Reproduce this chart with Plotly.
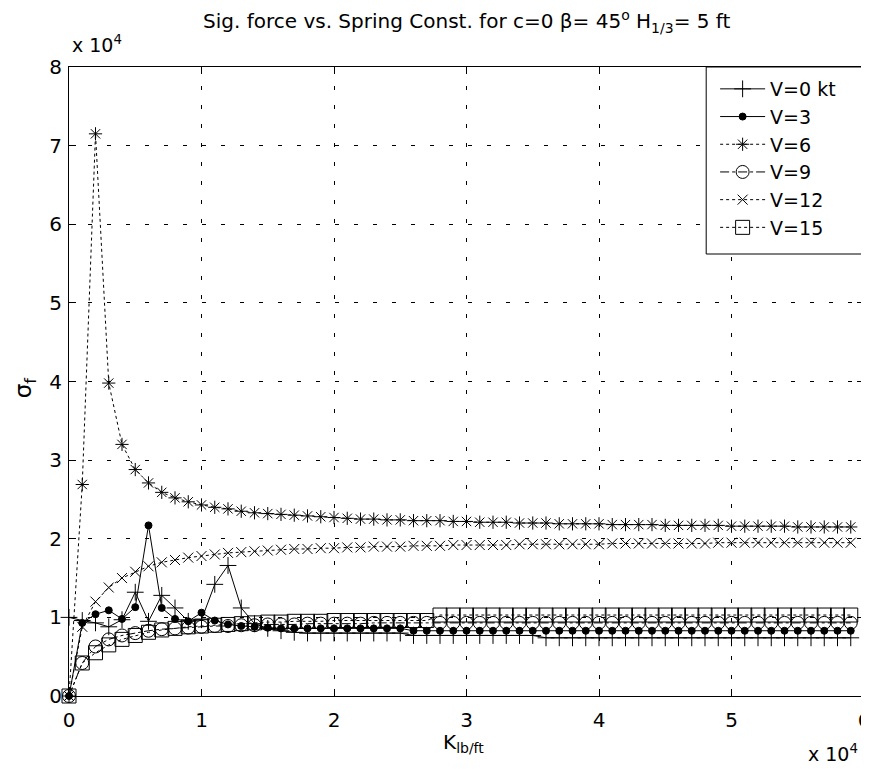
import plotly.graph_objects as go

# K in units of 10^4 lb/ft
K = [0.0, 0.1, 0.2, 0.3, 0.4, 0.5, 0.6, 0.7, 0.8, 0.9,
     1.0, 1.1, 1.2, 1.3, 1.4, 1.5, 1.6, 1.7, 1.8, 1.9,
     2.0, 2.1, 2.2, 2.3, 2.4, 2.5, 2.6, 2.7, 2.8, 2.9,
     3.0, 3.1, 3.2, 3.3, 3.4, 3.5, 3.6, 3.7, 3.8, 3.9,
     4.0, 4.1, 4.2, 4.3, 4.4, 4.5, 4.6, 4.7, 4.8, 4.9,
     5.0, 5.1, 5.2, 5.3, 5.4, 5.5, 5.6, 5.7, 5.8, 5.9]

# sigma_f in units of 10^4
V0 = [1.00, 0.96, 0.93, 0.88, 0.97, 1.32, 0.95, 1.28, 1.12, 0.95,
      0.97, 1.42, 1.66, 1.12, 0.92, 0.86, 0.83, 0.81, 0.80, 0.80,
      0.80, 0.80, 0.80, 0.80, 0.80, 0.80, 0.77, 0.77, 0.77, 0.77,
      0.77, 0.77, 0.77, 0.77, 0.77, 0.77, 0.74, 0.74, 0.74, 0.74,
      0.74, 0.74, 0.74, 0.74, 0.74, 0.74, 0.74, 0.74, 0.74, 0.74,
      0.74, 0.74, 0.74, 0.74, 0.74, 0.74, 0.74, 0.74, 0.74, 0.74]

V3 = [0.00, 0.93, 1.04, 1.09, 0.98, 1.13, 2.17, 1.12, 0.98, 0.95,
      1.06, 0.96, 0.91, 0.89, 0.88, 0.87, 0.86, 0.86, 0.86, 0.86,
      0.86, 0.86, 0.86, 0.86, 0.86, 0.86, 0.83, 0.83, 0.83, 0.83,
      0.83, 0.83, 0.83, 0.83, 0.83, 0.83, 0.83, 0.83, 0.83, 0.83,
      0.83, 0.83, 0.83, 0.83, 0.83, 0.83, 0.83, 0.83, 0.83, 0.83,
      0.83, 0.83, 0.83, 0.83, 0.83, 0.83, 0.83, 0.83, 0.83, 0.83]

V6 = [0.00, 2.69, 7.15, 3.98, 3.20, 2.88, 2.71, 2.59, 2.52, 2.47,
      2.43, 2.40, 2.38, 2.35, 2.33, 2.32, 2.31, 2.30, 2.29, 2.28,
      2.27, 2.26, 2.25, 2.25, 2.24, 2.24, 2.23, 2.23, 2.23, 2.22,
      2.22, 2.21, 2.21, 2.21, 2.20, 2.20, 2.20, 2.19, 2.19, 2.19,
      2.19, 2.18, 2.18, 2.18, 2.18, 2.17, 2.17, 2.17, 2.17, 2.17,
      2.16, 2.16, 2.16, 2.16, 2.16, 2.15, 2.15, 2.15, 2.15, 2.15]

V9 = [0.00, 0.42, 0.63, 0.72, 0.77, 0.80, 0.83, 0.85, 0.86, 0.87,
      0.88, 0.89, 0.89, 0.90, 0.90, 0.91, 0.91, 0.91, 0.92, 0.92,
      0.92, 0.92, 0.92, 0.93, 0.93, 0.93, 0.93, 0.93, 0.93, 0.93,
      0.93, 0.93, 0.93, 0.93, 0.93, 0.93, 0.93, 0.93, 0.93, 0.93,
      0.93, 0.93, 0.93, 0.93, 0.93, 0.93, 0.93, 0.93, 0.93, 0.93,
      0.93, 0.93, 0.93, 0.93, 0.93, 0.93, 0.93, 0.93, 0.93, 0.93]

V12 = [0.00, 0.88, 1.20, 1.38, 1.50, 1.58, 1.65, 1.70, 1.73, 1.76,
       1.78, 1.80, 1.82, 1.83, 1.84, 1.85, 1.86, 1.87, 1.87, 1.88,
       1.88, 1.89, 1.89, 1.90, 1.90, 1.90, 1.91, 1.91, 1.91, 1.92,
       1.92, 1.92, 1.92, 1.92, 1.93, 1.93, 1.93, 1.93, 1.93, 1.93,
       1.93, 1.94, 1.94, 1.94, 1.94, 1.94, 1.94, 1.94, 1.94, 1.95,
       1.95, 1.95, 1.95, 1.95, 1.95, 1.95, 1.95, 1.95, 1.95, 1.95]

V15 = [0.00, 0.42, 0.55, 0.65, 0.72, 0.77, 0.81, 0.84, 0.86, 0.88,
       0.89, 0.90, 0.91, 0.92, 0.93, 0.94, 0.94, 0.95, 0.95, 0.95,
       0.96, 0.96, 0.96, 0.96, 0.96, 0.96, 0.96, 0.96, 1.03, 1.03,
       1.03, 1.03, 1.03, 1.03, 1.03, 1.03, 1.03, 1.03, 1.03, 1.03,
       1.03, 1.03, 1.03, 1.03, 1.03, 1.03, 1.03, 1.03, 1.03, 1.03,
       1.03, 1.03, 1.03, 1.03, 1.03, 1.03, 1.03, 1.03, 1.03, 1.03]

series_names = ["V=0 kt", "V=3", "V=6", "V=9", "V=12", "V=15"]
series_vals = [V0, V3, V6, V9, V12, V15]

x_ticks = [0, 1, 2, 3, 4, 5, 6]
y_ticks = [0, 1, 2, 3, 4, 5, 6, 7, 8]

styles = [
    dict(dash="solid", symbol="cross-thin-open", size=12),
    dict(dash="solid", symbol="circle", size=7),
    dict(dash="dot", symbol="asterisk-open", size=11),
    dict(dash="dashdot", symbol="circle-open", size=13),
    dict(dash="dot", symbol="x-thin-open", size=10),
    dict(dash="dot", symbol="square-open", size=14),
]

FONT = "DejaVu Sans, Arial, sans-serif"

# plot area in pixels: x 61..862, y 59..688
L, R, T, B = 61, 862, 59, 688
W, H = R - L, B - T


def px(x):
    return (x - L) / W


def py(y):
    return (B - y) / H


fig = go.Figure()
for name, vals, st in zip(series_names, series_vals, styles):
    fig.add_trace(go.Scatter(
        x=K, y=vals, name=name, mode="lines+markers",
        line=dict(color="black", width=1, dash=st["dash"]),
        marker=dict(symbol=st["symbol"], size=st["size"], color="black",
                    line=dict(color="black", width=1)),
        cliponaxis=False,
    ))

axis_common = dict(
    showline=True, linecolor="black", linewidth=1, mirror="allticks",
    ticks="inside", ticklen=7, tickcolor="black",
    showgrid=True, gridcolor="black", gridwidth=1, griddash="4px,15px",
    zeroline=False, tickfont=dict(family=FONT, size=20, color="black"),
)

fig.update_xaxes(range=[0, 6], tickvals=x_ticks,
                 ticktext=[str(v) for v in x_ticks],
                 ticklabelstandoff=6, **axis_common)
fig.update_yaxes(range=[0, 8], tickvals=y_ticks,
                 ticktext=[str(v) for v in y_ticks],
                 ticklabelstandoff=2, **axis_common)

fig.update_layout(
    width=869, height=769,
    margin=dict(l=L, r=869 - R, t=T, b=769 - B),
    paper_bgcolor="white", plot_bgcolor="white",
    font=dict(family=FONT, color="black"),
    showlegend=True,
    legend=dict(x=px(712), y=py(62), xanchor="left", yanchor="top",
                bgcolor="rgba(0,0,0,0)", borderwidth=0,
                font=dict(family=FONT, size=19, color="black"),
                itemwidth=45, tracegroupgap=0),
    shapes=[
        dict(type="rect", xref="paper", yref="paper",
             x0=px(703), x1=1.0, y0=py(246), y1=1.0,
             line=dict(color="black", width=1), fillcolor="white",
             layer="above"),
    ],
    annotations=[
        dict(text="Sig. force vs. Spring Const. for c=0 β= 45<sup>o</sup> H<sub>1/3</sub>= 5 ft",
             xref="paper", yref="paper", x=0.5, y=py(13),
             xanchor="center", yanchor="middle", showarrow=False,
             font=dict(family=FONT, size=20, color="black")),
        dict(text="x 10<sup>4</sup>", xref="paper", yref="paper",
             x=px(62), y=py(36), xanchor="left", yanchor="middle",
             showarrow=False, font=dict(family=FONT, size=19, color="black")),
        dict(text="x 10<sup>4</sup>", xref="paper", yref="paper",
             x=px(831), y=py(745), xanchor="center", yanchor="middle",
             showarrow=False, font=dict(family=FONT, size=19, color="black")),
        dict(text="K<sub>lb/ft</sub>", xref="paper", yref="paper",
             x=px(458), y=py(735), xanchor="center", yanchor="middle",
             showarrow=False, font=dict(family=FONT, size=20, color="black")),
        dict(text="σ<sub>f</sub>", xref="paper", yref="paper",
             x=px(17), y=py(380), xanchor="center",
             yanchor="middle", textangle=-90, showarrow=False,
             font=dict(family=FONT, size=23, color="black")),
    ],
)

fig.write_html("out.html")
